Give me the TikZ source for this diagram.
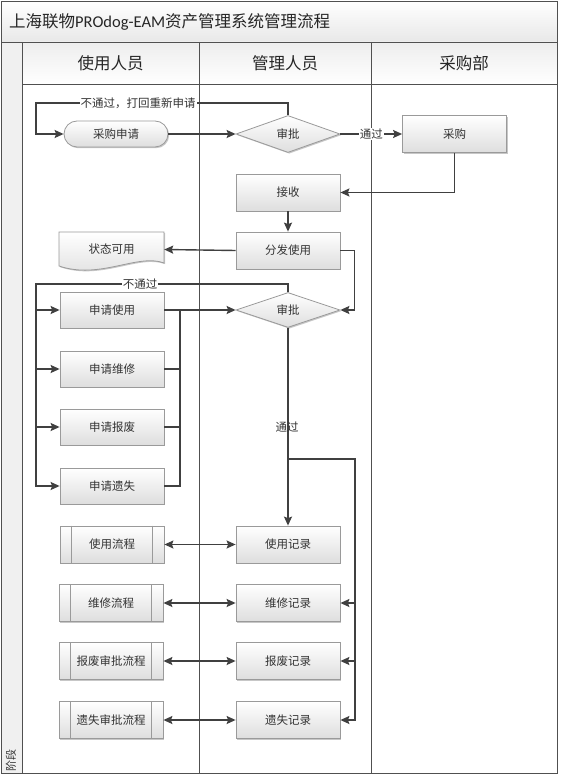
\documentclass[tikz,border=0pt]{standalone}
\usepackage{fontspec}
\setmainfont{Carlito}
\newfontfamily\cjk{Noto Sans CJK SC}
\usetikzlibrary{shapes.geometric,arrows.meta,shadows}
\definecolor{ln}{HTML}{404040}
\definecolor{bd}{HTML}{9A9A9A}
\definecolor{frm}{HTML}{505050}
\begin{document}
\begin{tikzpicture}[x=1pt,y=-1pt,
  shd/.style={drop shadow={shadow xshift=1.2pt,shadow yshift=-1.2pt,fill=black,opacity=0.22}},
  boxbase/.style={draw=bd,line width=0.8pt,top color=white,bottom color=black!13,
    inner sep=0pt,font=\cjk\fontsize{11.5}{14}\selectfont,text=black!80,shd},
  box/.style={boxbase,rectangle,minimum width=104pt,minimum height=37pt},
  term/.style={boxbase,rectangle,rounded corners=13pt,minimum width=104pt,minimum height=26pt},
  dec/.style={boxbase,diamond,aspect=2.8,minimum width=104pt,minimum height=37pt},
  lab/.style={fill=white,inner sep=1pt,font=\cjk\fontsize{11.5}{14}\selectfont,text=black!80},
  hdr/.style={font=\cjk\fontsize{16.5}{20}\selectfont,text=black!85},
  tip/.tip={Stealth[length=9pt,width=8pt,inset=1.5pt]},
  ar/.style={draw=ln,line width=1.4pt,-tip},
  darr/.style={draw=ln,line width=1.4pt,tip-tip},
  pl/.style={draw=ln,line width=1.4pt}]
\useasboundingbox (0,0) rectangle (560,775);
% background frame
\fill[white] (0,0) rectangle (560,775);
\shade[top color=white,bottom color=black!9] (1,1) rectangle (557,42);
\shade[top color=black!7,bottom color=white] (22,42) rectangle (557,84);
\fill[black!6] (1,42) rectangle (22,773);
\draw[frm,line width=0.9pt] (1,1) rectangle (557,773.5);
\draw[frm,line width=0.9pt] (1,42) -- (557,42);
\draw[frm,line width=0.9pt] (22,84) -- (557,84);
\draw[frm,line width=0.9pt] (22,42) -- (22,773.5);
\draw[frm,line width=0.9pt] (199,42) -- (199,773.5);
\draw[frm,line width=0.9pt] (371,42) -- (371,773.5);
% title and headers
\node[anchor=west,inner sep=0pt,font=\fontsize{16.5}{20}\selectfont,text=black!85] (title) at (9,21.5)
  {{\cjk 上海联物}PROdog-EAM{\cjk 资产管理系统管理流程}};
\node[hdr] (h1) at (110.5,63) {使用人员};
\node[hdr] (h2) at (285,63) {管理人员};
\node[hdr] (h3) at (464,63) {采购部};
\node[rotate=90,font=\cjk\fontsize{11}{13}\selectfont,text=black!80] (jd) at (11,760) {阶段};
% nodes
\node[term] (cgsq) at (116,134) {采购申请};
\node[dec] (sp1) at (288,134) {审批};
\node[box] (cg) at (454.5,134) {采购};
\node[box] (js) at (288,192.5) {接收};
\node[box] (ff) at (288,250.5) {分发使用};
\shade[top color=white,bottom color=black!13,draw=bd,line width=0.8pt,shd]
  (59,232) -- (164,232) -- (164,263) .. controls (138,253) and (100,280) .. (59,266) -- cycle;
\node[inner sep=0pt,minimum width=105pt,minimum height=37pt,font=\cjk\fontsize{11.5}{14}\selectfont,text=black!80] (zt) at (111.5,249.5) {状态可用};
\node[dec,minimum height=35pt] (sp2) at (288,310) {审批};
\node[box,minimum height=36pt] (sqsy) at (112,310) {申请使用};
\node[box,minimum height=36pt] (sqwx) at (112,369) {申请维修};
\node[box,minimum height=36pt] (sqbf) at (112,427) {申请报废};
\node[box,minimum height=36pt] (sqys) at (112,486) {申请遗失};
\node[box] (sylc) at (112,544.5) {使用流程};
\node[box] (wxlc) at (111,603) {维修流程};
\node[box] (bflc) at (111,661) {报废审批流程};
\node[box] (yslc) at (111,720) {遗失审批流程};
\foreach \n in {sylc,wxlc,bflc,yslc}{
  \draw[bd,line width=0.8pt] ([xshift=12pt]\n.north west) -- ([xshift=12pt]\n.south west);
  \draw[bd,line width=0.8pt] ([xshift=-12pt]\n.north east) -- ([xshift=-12pt]\n.south east);
}
\node[box] (syjl) at (288,544.5) {使用记录};
\node[box] (wxjl) at (288,603) {维修记录};
\node[box] (bfjl) at (288,661) {报废记录};
\node[box] (ysjl) at (288,720) {遗失记录};
% connectors
\coordinate (c1) at (36,103);
\draw[ar] (sp1.north) |- (c1) |- (cgsq.west);
\node[lab] (t1) at (138,103) {不通过，打回重新申请};
\draw[ar] (cgsq.east) -- (sp1.west);
\draw[ar] (sp1.east) -- node[lab] (t2) {通过} (cg.west);
\draw[ar] (cg.south) |- (js.east);
\draw[ar] (js.south) -- (ff.north);
\draw[ar] (ff.west) -- (zt.east);
\draw[ar] (ff.east) -- ++(14,0) |- (sp2.east);
\coordinate (c2) at (36,284);
\draw[ar] (sp2.north) |- (c2) |- (sqsy.west);
\draw[ar] (c2) |- (sqwx.west);
\draw[ar] (c2) |- (sqbf.west);
\draw[ar] (c2) |- (sqys.west);
\node[lab] (t3) at (140,284) {不通过};
\coordinate (bus) at (180,310);
\draw[pl] (sqwx.east) -| (bus);
\draw[pl] (sqbf.east) -| (bus);
\draw[pl] (sqys.east) -| (bus);
\draw[ar] (sqsy.east) -- (sp2.west);
\draw[ar] (sp2.south) -- (syjl.north);
\node[font=\cjk\fontsize{11.5}{14}\selectfont,text=black!80,inner sep=0pt] (t4) at (287,427) {通过};
\coordinate (c3) at (288,459);
\coordinate (c4) at (355,459);
\draw[ar] (c3) -- (c4) |- (ysjl.east);
\draw[ar] (c4) |- (wxjl.east);
\draw[ar] (c4) |- (bfjl.east);
\draw[darr] (sylc.east) -- (syjl.west);
\draw[darr] (wxlc.east) -- (wxjl.west);
\draw[darr] (bflc.east) -- (bfjl.west);
\draw[darr] (yslc.east) -- (ysjl.west);
\end{tikzpicture}
\end{document}
